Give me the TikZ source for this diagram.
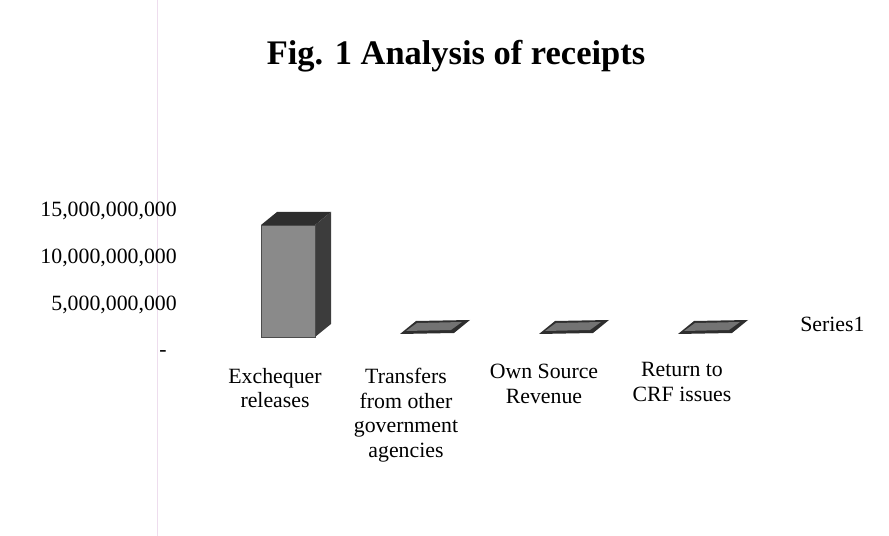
\documentclass[tikz,border=0pt]{standalone}
\usepackage{fontspec}
\setmainfont{Liberation Serif}
\usepackage{xcolor}
\usepackage{tikz}
\usetikzlibrary{calc, positioning}

\definecolor{barfront}{HTML}{8A8A8A}
\definecolor{barside}{HTML}{3C3C3C}
\definecolor{bartop}{HTML}{2E2E2E}
\definecolor{marginline}{HTML}{EEDDEE}

\tikzset{
  axislabel/.style={font=\fontsize{15.5}{17.4}\selectfont, anchor=base east, inner sep=0pt},
  catlabel/.style={font=\fontsize{15.5}{17.4}\selectfont, align=center, anchor=north, inner sep=0pt},
}

\begin{document}
\begin{tikzpicture}[x=0.025cm, y=-0.025cm]
\useasboundingbox (0,0) rectangle (889,536);
% scanned page margin
\draw[marginline, line width=0.6pt] (157,0) -- (157,536);
% Title
\node[font=\fontsize{24.5}{28}\selectfont\bfseries, anchor=base, inner sep=0pt] (title)
     at (456,65) {Fig. 1 Analysis of receipts};
% Value axis labels
\node[axislabel] (y15) at (177,217) {15,000,000,000};
\node[axislabel] (y10) at (177,264) {10,000,000,000};
\node[axislabel] (y5)  at (177,311) {5,000,000,000};
\node[axislabel] (y0)  at (167,357) {-};
% Exchequer releases - tall 3D bar
\fill[barfront] (261,225) rectangle (315,337);
\fill[bartop] (261,225) -- (277,212) -- (331,212) -- (315,225) -- cycle;
\fill[barside] (315,225) -- (331,212) -- (331,324) -- (315,337) -- cycle;
\draw[black!70, line width=0.4pt] (261,225) rectangle (315,337);
% Near-zero bars (flat slabs)
\foreach \cx in {427,566,705} {
  \fill[bartop] (\cx-27,334) -- (\cx-11,321) -- (\cx+43,320) -- (\cx+27,333) -- cycle;
  \fill[black!55] (\cx-21,331) -- (\cx-10,323) -- (\cx+35,322) -- (\cx+24,330) -- cycle;
}
% Category labels
\node[catlabel] (exch) at (275,368) {Exchequer\\releases};
\node[catlabel] (trans) at (406,368) {Transfers\\from other\\government\\agencies};
\node[catlabel] (own) at (544,364) {Own Source\\Revenue};
\node[catlabel] (crf) at (682,362) {Return to\\CRF issues};
% Legend
\node[font=\fontsize{15.5}{17.4}\selectfont, anchor=base west, inner sep=0pt] (series)
     at (800,332) {Series1};
\end{tikzpicture}
\end{document}
